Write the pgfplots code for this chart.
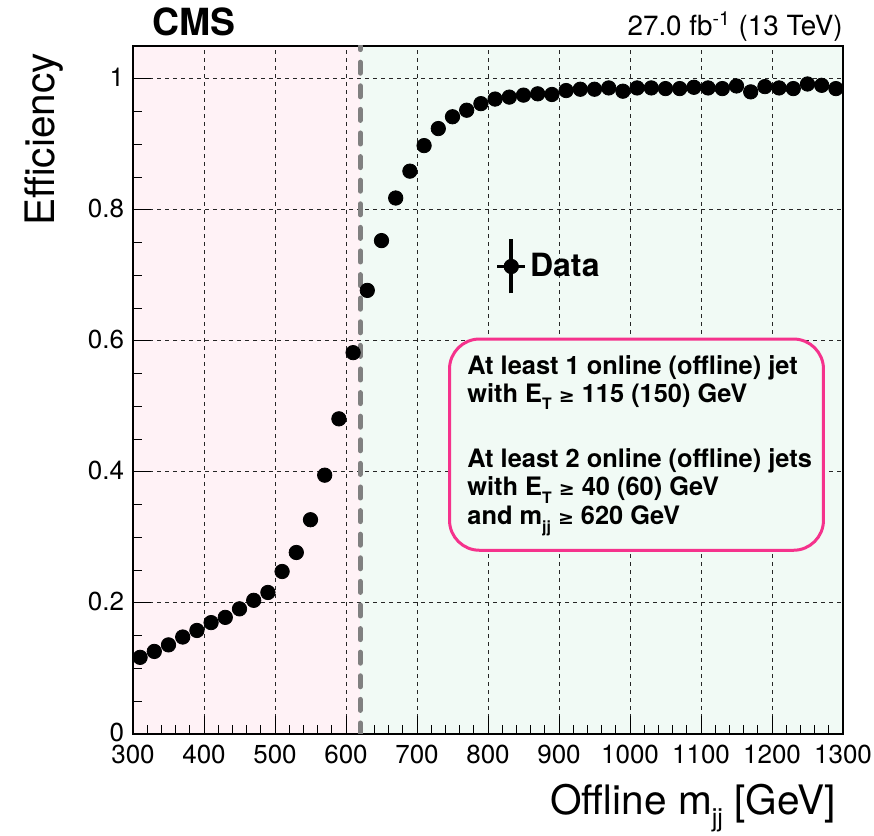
\documentclass[border=0pt]{standalone}
\usepackage{fontspec}
\setmainfont{TeX Gyre Heros}
\newfontfamily\symf{DejaVu Sans}
\usepackage{graphicx}
\usepackage{pgfplots}
\usepackage{pgfplotstable}
\pgfplotsset{compat=1.18}

\definecolor{pinkbg}{RGB}{255,242,246}
\definecolor{greenbg}{RGB}{241,250,245}
\definecolor{boxpink}{RGB}{245,50,140}
\definecolor{dashgray}{RGB}{128,128,128}

\newcommand{\lsub}[1]{\raisebox{-0.55ex}{\scalebox{0.62}{#1}}}
\newcommand{\geqs}{{\symf\fontsize{9.5}{10}\selectfont ≥}}
\newcommand{\boxfont}{\fontsize{12.7}{15}\bfseries}

\pgfplotstableread{
x y
310 0.117
330 0.126
350 0.136
370 0.148
390 0.158
410 0.170
430 0.178
450 0.191
470 0.204
490 0.216
510 0.248
530 0.277
550 0.327
570 0.395
590 0.481
610 0.582
630 0.677
650 0.753
670 0.818
690 0.859
710 0.898
730 0.924
750 0.942
770 0.952
790 0.962
810 0.969
830 0.972
850 0.975
870 0.977
890 0.976
910 0.982
930 0.984
950 0.984
970 0.986
990 0.981
1010 0.986
1030 0.986
1050 0.985
1070 0.985
1090 0.987
1110 0.986
1130 0.985
1150 0.989
1170 0.980
1190 0.988
1210 0.986
1230 0.985
1250 0.992
1270 0.990
1290 0.985
}\effdata

\begin{document}
\begin{tikzpicture}
\begin{axis}[
  name=ax,
  set layers,
  scale only axis, width=355pt, height=344pt,
  xmin=300, xmax=1300, ymin=0, ymax=1.05,
  xtick={300,400,500,600,700,800,900,1000,1100,1200,1300},
  ytick={0,0.2,0.4,0.6,0.8,1},
  minor x tick num=4, minor y tick num=3,
  tick pos=left, tick align=inside,
  major tick length=9pt, minor tick length=4.5pt,
  grid=major,
  grid style={black!85, line width=0.5pt, dash pattern=on 2pt off 2pt},
  axis line style={black, line width=0.6pt},
  tick style={black, line width=0.5pt},
  ticklabel style={font=\fontsize{13}{15}\selectfont, inner sep=0.5pt},
  xticklabel style={yshift=-4.6pt},
  yticklabel style={xshift=-3.8pt, yshift=0.6pt},
  /pgf/number format/assume math mode=true,
  /pgf/number format/1000 sep={},
  xlabel={Offline m\lsub{jj} [GeV]},
  ylabel={Efficiency},
  label style={font=\fontsize{20.3}{24}\selectfont},
  xlabel style={at={(axis description cs:1,0)}, anchor=base east, yshift=-40.5pt},
  ylabel style={at={(axis description cs:-0.111,1)}, anchor=base east},
  legend style={at={(axis description cs:0.51,0.6795)}, anchor=west,
    draw=none, fill=none, inner sep=0pt, column sep=1.5pt,
    nodes={inner sep=0pt}, font=\fontsize{16}{19}\bfseries},
]
\addplot[forget plot, fill=pinkbg, draw=none, on layer=axis background]
  coordinates {(300,1.05) (620,1.05)} \closedcycle;
\addplot[forget plot, fill=greenbg, draw=none, on layer=axis background]
  coordinates {(620,1.05) (1300,1.05)} \closedcycle;

\addplot[only marks, mark=*, mark size=3.6pt, black, mark options={fill=black},
  legend image code/.code={
    \draw[line width=1.8pt] (0pt,-13.5pt) -- (0pt,13.5pt) (-7pt,0pt) -- (7pt,0pt);
    \fill (0pt,0pt) circle (3.6pt);}]
  table[x=x, y=y] {\effdata};
\addlegendentry{Data}

\addplot[forget plot, dashgray, line width=2.5pt, dash pattern=on 5.5pt off 6.3pt, line cap=round]
  coordinates {(620,0) (620,1.05)};

\draw[boxpink, line width=1.5pt, fill=greenbg, rounded corners=15pt]
  (axis cs:745.8,0.2804) rectangle (axis cs:1272.5,0.6028);
\node[anchor=base west, font=\boxfont, inner sep=0pt] at (axis cs:770.4,0.5485) {At least 1 online (offline) jet};
\node[anchor=base west, font=\boxfont, inner sep=0pt] at (axis cs:770.4,0.5062) {with E\lsub{T} \geqs{} 115 (150) GeV};
\node[anchor=base west, font=\boxfont, inner sep=0pt] at (axis cs:770.4,0.4069) {At least 2 online (offline) jets};
\node[anchor=base west, font=\boxfont, inner sep=0pt] at (axis cs:770.4,0.3636) {with E\lsub{T} \geqs{} 40 (60) GeV};
\node[anchor=base west, font=\boxfont, inner sep=0pt] at (axis cs:770.4,0.3193) {and m\lsub{jj} \geqs{} 620 GeV};
\end{axis}
\node[anchor=base west, inner sep=0pt, font=\fontsize{18.7}{22}\bfseries] at ([xshift=9.5pt,yshift=5pt]ax.north west) {CMS};
\node[anchor=base east, inner sep=0pt, font=\fontsize{13.9}{16}\selectfont] at ([yshift=5pt]ax.north east) {27.0 fb\textsuperscript{-1} (13 TeV)};
\pgfresetboundingbox
\path[use as bounding box] (-66.5pt,-51pt) rectangle (370.5pt,367pt);
\end{tikzpicture}
\end{document}
